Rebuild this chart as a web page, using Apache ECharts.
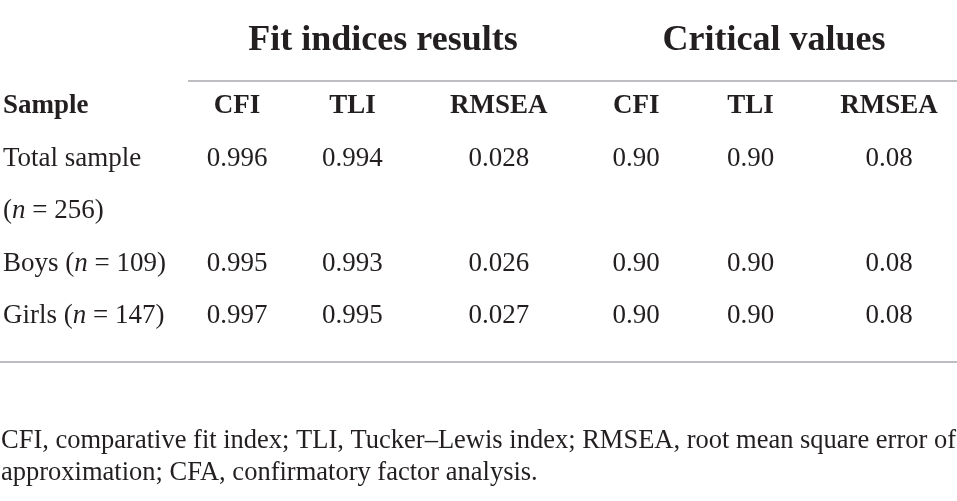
<!DOCTYPE html>
<html>
<head>
<meta charset="utf-8">
<script src="https://cdn.jsdelivr.net/npm/echarts@6/dist/echarts.min.js"></script>
<style>html,body{margin:0;padding:0;background:#fff}#c{width:957px;height:501px}</style>
</head>
<body>
<div id="c"></div>
<script>
// ---- data ----
const groupHeaders = ['Fit indices results', 'Critical values'];
const columnHeaders = ['CFI', 'TLI', 'RMSEA', 'CFI', 'TLI', 'RMSEA'];
const sampleHeader = 'Sample';
const sampleNames = ['Total sample', 'Boys', 'Girls'];
const sampleN = [256, 109, 147];
const fitCFI = [0.996, 0.995, 0.997];
const fitTLI = [0.994, 0.993, 0.995];
const fitRMSEA = [0.028, 0.026, 0.027];
const critCFI = [0.90, 0.90, 0.90];
const critTLI = [0.90, 0.90, 0.90];
const critRMSEA = [0.08, 0.08, 0.08];
const footnoteLines = [
  'CFI, comparative fit index; TLI, Tucker\u2013Lewis index; RMSEA, root mean square error of',
  'approximation; CFA, confirmatory factor analysis.'
];

// ---- layout / style ----
const FONT = '"Liberation Serif", "DejaVu Serif", serif';
const INK = '#231f20';
const RULE = '#a7a9ac';
const colShift = [0, -15, 1, 8, -8, 0];
const columnSeries = [fitCFI, fitTLI, fitRMSEA, critCFI, critTLI, critRMSEA];
const decimals = [3, 3, 3, 2, 2, 2];

// row slots: 0 = header, then text lines (Total sample wraps onto 2 lines)
const rowLabels = ['{b|' + sampleHeader + '}'];
const sampleSlot = [];
sampleNames.forEach((name, i) => {
  sampleSlot.push(rowLabels.length);
  if (i === 0) {
    rowLabels.push('{r|' + name + '}');
    rowLabels.push('{r|(}{i|n}{r| = ' + sampleN[i] + ')}');
  } else {
    rowLabels.push('{r|' + name + ' (}{i|n}{r| = ' + sampleN[i] + ')}');
  }
});

const cells = [];
columnHeaders.forEach((h, c) => cells.push({ v: [c, 0], text: h, bold: true }));
columnSeries.forEach((arr, c) => {
  arr.forEach((val, r) => cells.push({ v: [c, sampleSlot[r]], text: val.toFixed(decimals[c]), bold: false }));
});

const chart = echarts.init(document.getElementById('c'), null, { renderer: 'canvas' });
chart.setOption({
  animation: false,
  backgroundColor: '#fff',
  grid: { left: 237, right: 68, top: 106, bottom: 185 },
  xAxis: {
    type: 'category', data: columnHeaders.map((h, i) => i + ''), boundaryGap: false,
    axisLine: { show: false }, axisTick: { show: false }, axisLabel: { show: false }, splitLine: { show: false }
  },
  yAxis: {
    type: 'category', data: rowLabels.map((l, i) => i + ''), inverse: true, boundaryGap: false,
    axisLine: { show: false }, axisTick: { show: false }, splitLine: { show: false },
    axisLabel: {
      interval: 0, align: 'left', margin: 234, verticalAlign: 'middle',
      formatter: (v, idx) => rowLabels[idx],
      rich: {
        b: { fontFamily: FONT, fontSize: 27, fontWeight: 'bold', color: INK },
        r: { fontFamily: FONT, fontSize: 27, color: INK },
        i: { fontFamily: FONT, fontSize: 27, fontStyle: 'italic', color: INK }
      }
    }
  },
  series: [{
    type: 'custom',
    data: cells.map(c => c.v),
    renderItem: (params, api) => {
      const cell = cells[params.dataIndex];
      const p = api.coord([api.value(0), api.value(1)]);
      return {
        type: 'text',
        x: p[0] + colShift[cell.v[0]],
        y: p[1],
        style: {
          text: cell.text, fontFamily: FONT, fontSize: 27,
          fontWeight: cell.bold ? 'bold' : 'normal', fill: INK,
          align: 'center', verticalAlign: 'middle'
        }
      };
    }
  }],
  graphic: [
    { type: 'text', x: 383, y: 41, style: { text: groupHeaders[0], fontFamily: FONT, fontSize: 36, fontWeight: 'bold', fill: INK, align: 'center', verticalAlign: 'middle' } },
    { type: 'text', x: 774, y: 41, style: { text: groupHeaders[1], fontFamily: FONT, fontSize: 36, fontWeight: 'bold', fill: INK, align: 'center', verticalAlign: 'middle' } },
    { type: 'line', shape: { x1: 188, y1: 81, x2: 957, y2: 81 }, style: { stroke: RULE, lineWidth: 1.5 } },
    { type: 'line', shape: { x1: 0, y1: 362, x2: 957, y2: 362 }, style: { stroke: RULE, lineWidth: 1.5 } },
    { type: 'text', x: 1, y: 441, style: { text: footnoteLines[0], fontFamily: FONT, fontSize: 26.5, fill: INK, align: 'left', verticalAlign: 'middle' } },
    { type: 'text', x: 1, y: 473, style: { text: footnoteLines[1], fontFamily: FONT, fontSize: 26.5, fill: INK, align: 'left', verticalAlign: 'middle' } }
  ]
});
</script>
</body>
</html>
